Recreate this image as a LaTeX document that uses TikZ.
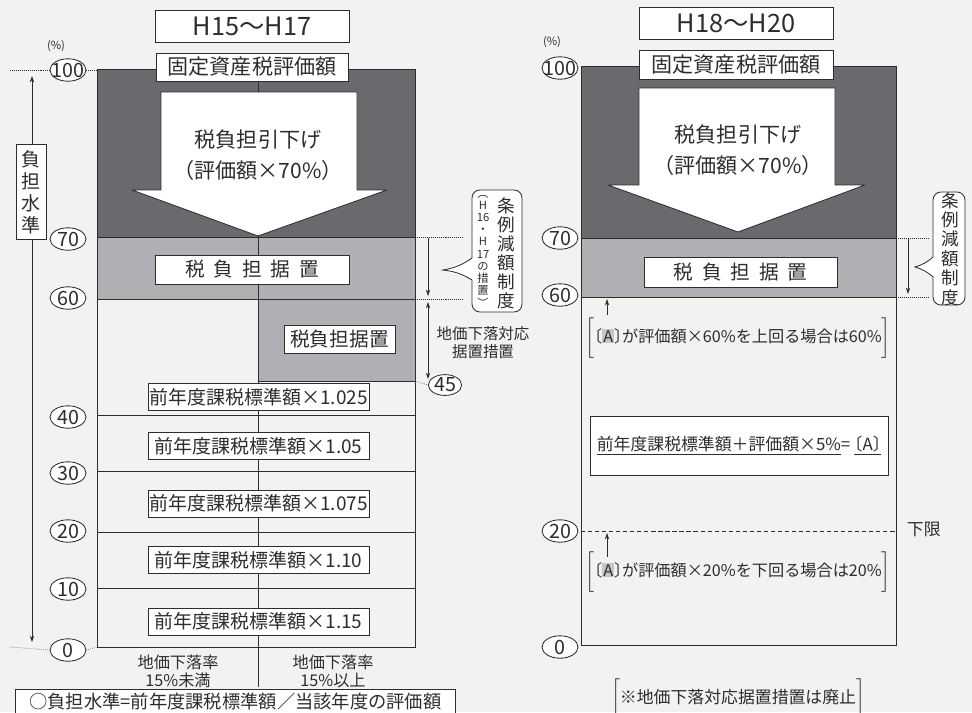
\documentclass[tikz,border=0pt]{standalone}
\usepackage{fontspec}
\setmainfont{Noto Sans CJK JP}
\usepackage{amsmath}
\usepackage{xcolor}
\usepackage{tikz}
\usetikzlibrary{arrows.meta}
\usetikzlibrary{shapes.geometric}

\definecolor{paper}{RGB}{242,242,240}
\definecolor{ink}{RGB}{45,45,45}
\definecolor{darkband}{RGB}{106,106,110}
\definecolor{lightband}{RGB}{176,176,180}
\definecolor{markgray}{RGB}{198,198,198}

\newcommand{\markA}{\kern-0.5em〔{\setlength{\fboxsep}{0.7pt}\colorbox{markgray}{A}}〕\kern-0.5em}
\newcommand{\plainA}{\kern-0.5em〔A〕\kern-0.5em}

\tikzset{
    frame/.style={ink, line width=0.6pt},
    tbox/.style={draw=ink, fill=white, line width=0.6pt, inner sep=0pt},
    lvl/.style={ellipse, draw=ink, fill=white, line width=0.6pt, inner xsep=-3.5pt, inner ysep=-1.5pt, minimum width=9mm, minimum height=5.6mm, font=\fontsize{14}{14}\selectfont},
    guide/.style={ink, line width=0.4pt, densely dotted},
    pin/.style={ink, line width=0.5pt, ->},
    twopin/.style={ink, line width=0.5pt, <->},
    callout/.style={draw=ink, fill=white, line width=0.6pt, rounded corners=2mm, inner sep=0pt},
    every node/.style={text=ink},
}

\begin{document}
\begin{tikzpicture}[x=0.25mm, y=-0.25mm, >={Stealth[length=4.5pt, width=3pt]}]
        \useasboundingbox (0,0) rectangle (972,712);
        \fill [paper] (0,0) rectangle (972,712);

        \fill [darkband] (97,69) rectangle (415,237);
        \fill [lightband] (97,237) rectangle (415,299);
        \fill [lightband] (258,299) rectangle (415,381);
        \draw [frame] (258,69) -- (258,687);
        \draw [frame] (97,69) rectangle (415,647);
        \foreach \y in {237, 299, 415, 471, 532, 588}{
            \draw [frame] (97,\y) -- (415,\y);
        }
        \draw [frame] (258,381) -- (415,381);
        \draw [frame, fill=white, line join=round] (161,92) -- (357,92) -- (357,190) -- (387,190) -- (258,236) -- (132,190) -- (161,190) -- cycle;

        \node [tbox, minimum width=48.5mm, minimum height=8mm, font=\fontsize{18}{18}\selectfont] (titleL) at (252,26) {H15～H17};
        \node [font=\fontsize{8}{8}\selectfont] (pctL) at (56,46) {(\%)};
        \node [tbox, minimum width=48mm, minimum height=7mm, font=\fontsize{15}{15}\selectfont] (assessL) at (252,67) {固定資産税評価額};
        \node [font=\fontsize{15}{15}\selectfont] (cutL) at (258,140) {税負担引下げ};
        \node [font=\fontsize{15}{15}\selectfont] (rateL) at (258,170) {（評価額×70\%）};
        \node [tbox, minimum width=48.5mm, minimum height=7.25mm, font=\fontsize{14}{14}\selectfont] (holdL) at (252,269.5) {税\hspace{.45em}負\hspace{.45em}担\hspace{.45em}据\hspace{.45em}置};
        \node [tbox, minimum width=27.75mm, minimum height=7mm, font=\fontsize{14}{14}\selectfont] (dropholdL) at (339.5,339) {税負担据置};
        \foreach \y/\f [count=\i] in {397/1.025, 446/1.05, 503.5/1.075, 560/1.10, 621.5/1.15}{
            \node [tbox, minimum width=55.25mm, minimum height=6.75mm, font=\fontsize{13.5}{13.5}\selectfont] (mult\i) at (258.5,\y) {前年度課税標準額×\f};
        }
        \foreach \v/\y in {100/70, 70/239, 60/298, 40/417, 30/473, 20/531, 10/589, 0/650}{
            \node [lvl] (lvL\v) at (68,\y) {\v};
        }
        \draw [guide] (10,70) -- (lvL100.west);
        \draw [guide] (lvL100.east) -- (97,70);
        \draw [guide] (10,647) -- (lvL0.west);
        \draw [guide] (lvL0.east) -- (97,647);

        \coordinate (axtop) at (32,76);
        \coordinate (axbot) at (32,642);
        \draw [twopin] (axtop) -- (axbot);
        \node [tbox, minimum width=7.5mm, minimum height=23.75mm, align=center, font=\fontsize{13.5}{15.6}\selectfont] (burden) at (31,192) {負\\担\\水\\準};

        \node [font=\fontsize{11.5}{12.8}\selectfont, align=center] (under15) at (178,671) {地価下落率\\15\%未満};
        \node [font=\fontsize{11.5}{12.8}\selectfont, align=center] (over15) at (333,671) {地価下落率\\15\%以上};
        \node [tbox, anchor=north west, minimum width=110mm, minimum height=6mm, font=\fontsize{13}{13}\selectfont] (ratio) at (15,689) {○負担水準=前年度課税標準額／当該年度の評価額};

        \node [lvl, minimum width=8.3mm, minimum height=5.2mm] (lv45) at (445,385) {45};
        \draw [guide] (415,237) -- (463,237);
        \draw [guide] (415,299) -- (463,299);
        \draw [guide] (415,381) -- (lv45.west);
        \coordinate (s70) at (428,238);
        \coordinate (s60a) at (428,296);
        \coordinate (s60b) at (428,302);
        \coordinate (s45) at (428,379);
        \draw [pin] (s70) -- (s60a);
        \draw [twopin] (s60b) -- (s45);
        \node [font=\fontsize{11}{11}\selectfont] (dropA) at (483,334) {地価下落対応};
        \node [font=\fontsize{11}{11}\selectfont] (dropB) at (483,352) {据置措置};

        \node [callout, minimum width=12.5mm, minimum height=30.5mm] (ordL) at (497,251) {};
        \fill [white] (473,258) -- (443,270) -- (473,280) -- cycle;
        \draw [ink, line width=0.6pt] (472,258) to[bend left=12] (443,270) to[bend left=12] (472,280);
        \node [font=\fontsize{8}{8.7}\selectfont, align=center, inner sep=0pt] (noteL) at (483,251) {︵\\H\\16\\・\\H\\17\\の\\措\\置\\︶};
        \node [font=\fontsize{12.5}{13.5}\selectfont, align=center, inner sep=0pt] (ordtxtL) at (506,253) {条\\例\\減\\額\\制\\度};

        \fill [darkband] (581,66) rectangle (896,238);
        \fill [lightband] (581,238) rectangle (896,297);
        \draw [frame] (581,66) rectangle (896,645);
        \draw [frame] (581,238) -- (896,238);
        \draw [frame] (581,297) -- (896,297);
        \draw [frame, fill=white, line join=round] (639,88) -- (835,88) -- (835,185) -- (865,185) -- (738,232) -- (608,185) -- (639,185) -- cycle;
        \draw [ink, line width=0.6pt, dash pattern=on 3pt off 2pt] (581,531) -- (896,531);

        \node [tbox, minimum width=48.5mm, minimum height=8mm, font=\fontsize{18}{18}\selectfont] (titleR) at (736,23) {H18～H20};
        \node [font=\fontsize{8}{8}\selectfont] (pctR) at (552,42) {(\%)};
        \node [tbox, minimum width=48.5mm, minimum height=7.25mm, font=\fontsize{15}{15}\selectfont] (assessR) at (736,64.5) {固定資産税評価額};
        \node [font=\fontsize{15}{15}\selectfont] (cutR) at (738,135) {税負担引下げ};
        \node [font=\fontsize{15}{15}\selectfont] (rateR) at (738,165) {（評価額×70\%）};
        \node [tbox, minimum width=48.25mm, minimum height=7.5mm, font=\fontsize{14}{14}\selectfont] (holdR) at (740.5,272) {税\hspace{.45em}負\hspace{.45em}担\hspace{.45em}据\hspace{.45em}置};
        \foreach \v/\y in {100/68, 70/238, 60/295, 20/531, 0/647}{
            \node [lvl] (lvR\v) at (560,\y) {\v};
        }

        \draw [guide] (896,238) -- (929,238);
        \draw [guide] (896,297) -- (929,297);
        \coordinate (r70) at (908,239);
        \coordinate (r60) at (908,294);
        \draw [pin] (r70) -- (r60);
        \node [callout, minimum width=8mm, minimum height=28.25mm] (ordR) at (949,248.5) {};
        \fill [white] (934,257) -- (915,267) -- (934,277) -- cycle;
        \draw [ink, line width=0.6pt] (933,257) to[bend left=12] (915,267) to[bend left=12] (933,277);
        \node [font=\fontsize{12.5}{13.8}\selectfont, align=center, inner sep=0pt] (ordtxtR) at (950,249) {条\\例\\減\\額\\制\\度};

        \coordinate (upA) at (607,315);
        \coordinate (upAtip) at (607,299);
        \draw [pin] (upA) -- (upAtip);
        \node [font=\fontsize{11.5}{11.5}\selectfont] (ruleHi) at (738,338) {$\bigg[$\markA が評価額×60\%を上回る場合は60\%$\bigg]$};
        \node [tbox, minimum width=74.5mm, minimum height=14.75mm, font=\fontsize{12}{12}\selectfont] (formula) at (739,445.5) {\underline{前年度課税標準額＋評価額×5\%}= \underline{\plainA}};
        \node [font=\fontsize{12}{12}\selectfont, anchor=west] (floor) at (902,529) {下限};
        \coordinate (upB) at (607,557);
        \coordinate (upBtip) at (607,533);
        \draw [pin] (upB) -- (upBtip);
        \node [font=\fontsize{11.5}{11.5}\selectfont] (ruleLo) at (738,572) {$\bigg[$\markA が評価額×20\%を下回る場合は20\%$\bigg]$};
        \node [font=\fontsize{12}{12}\selectfont] (abolish) at (738,699) {$\bigg[$※地価下落対応据置措置は廃止$\bigg]$};
    \end{tikzpicture}
\end{document}
